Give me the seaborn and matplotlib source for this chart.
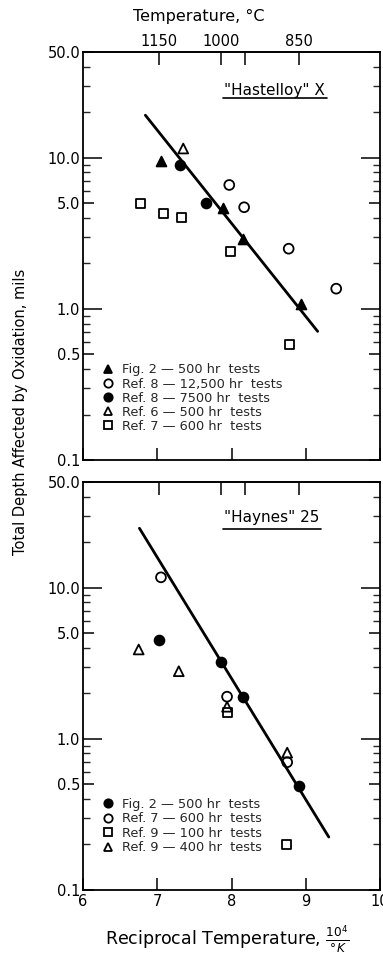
import numpy as np
import matplotlib
matplotlib.use("Agg")
import matplotlib.pyplot as plt
from matplotlib.lines import Line2D
import seaborn as sns

# ---------------- data ----------------
# Top panel: "Hastelloy" X
hx_fig2_x = [7.05, 7.88, 8.16, 8.93]
hx_fig2_y = [9.5, 4.65, 2.9, 1.07]
hx_ref8a_x = [7.97, 8.17, 8.77, 9.41]
hx_ref8a_y = [6.6, 4.7, 2.5, 1.36]
hx_ref8b_x = [7.30, 7.66]
hx_ref8b_y = [9.0, 5.0]
hx_ref6_x = [7.35]
hx_ref6_y = [11.5]
hx_ref7_x = [6.77, 7.08, 7.32, 7.98, 8.78]
hx_ref7_y = [5.0, 4.3, 4.0, 2.4, 0.58]
hx_fit_x = [6.84, 9.16]
hx_fit_y = [19.1, 0.71]
hx_labels = ["Fig. 2 — 500 hr  tests", "Ref. 8 — 12,500 hr  tests",
             "Ref. 8 — 7500 hr  tests", "Ref. 6 — 500 hr  tests",
             "Ref. 7 — 600 hr  tests"]

# Bottom panel: "Haynes" 25
hy_fig2_x = [7.03, 7.86, 8.16, 8.91]
hy_fig2_y = [4.5, 3.2, 1.9, 0.49]
hy_ref7_x = [7.05, 7.94, 8.75]
hy_ref7_y = [11.7, 1.9, 0.70]
hy_ref9a_x = [7.94, 8.74]
hy_ref9a_y = [1.5, 0.20]
hy_ref9b_x = [6.75, 7.29, 7.94, 8.75]
hy_ref9b_y = [3.9, 2.8, 1.63, 0.81]
hy_fit_x = [6.76, 9.31]
hy_fit_y = [24.7, 0.224]
hy_labels = ["Fig. 2 — 500 hr  tests", "Ref. 7 — 600 hr  tests",
             "Ref. 9 — 100 hr  tests", "Ref. 9 — 400 hr  tests"]

x_ticks = [6, 7, 8, 9, 10]
y_ticks = [0.1, 0.5, 1.0, 5.0, 10.0, 50.0]
y_ticklabels = ["0.1", "0.5", "1.0", "5.0", "10.0", "50.0"]
c_ticks = [1150, 1000, 950, 850]
c_ticklabels = ["1150", "1000", "", "850"]

# ---------------- style ----------------
sns.set_theme(style="ticks")
plt.rcParams['font.family'] = ['DejaVu Sans']
plt.rcParams['axes.linewidth'] = 1.3

fig = plt.figure(figsize=(3.83, 9.58), dpi=100)
ax1 = fig.add_axes([0.2167, 0.5198, 0.7755, 0.4259])
ax2 = fig.add_axes([0.2167, 0.0710, 0.7755, 0.4259])

MS = 50
LW = 1.3
TICKFS = 10.5


def scatter(ax, x, y, marker, filled, size=MS):
    sns.scatterplot(x=x, y=y, ax=ax, marker=marker, s=size, color="black",
                    edgecolor="black", linewidth=LW, zorder=4, legend=False)
    if not filled:
        ax.collections[-1].set_facecolor("none")


def handle(marker, filled):
    return Line2D([], [], linestyle="none", marker=marker, markersize=6,
                  markerfacecolor="black" if filled else "none",
                  markeredgecolor="black", markeredgewidth=LW)


def k_to_c(x):
    x = np.asarray(x, dtype=float)
    with np.errstate(divide="ignore", invalid="ignore"):
        return 1e4 / x - 273.0


def c_to_k(c):
    c = np.asarray(c, dtype=float)
    with np.errstate(divide="ignore", invalid="ignore"):
        return 1e4 / (c + 273.0)


def style_axes(ax, show_xlabels, show_ctlabels):
    ax.set_yscale("log")
    ax.set_xlim(6, 10)
    ax.set_ylim(0.1, 50)
    ax.set_xticks(x_ticks)
    if show_xlabels:
        ax.set_xticklabels([str(t) for t in x_ticks])
    else:
        ax.set_xticklabels([])
    ax.set_yticks(y_ticks)
    ax.set_yticklabels(y_ticklabels)
    ax.yaxis.set_minor_locator(matplotlib.ticker.LogLocator(base=10, subs=np.arange(2, 10)))
    ax.yaxis.set_minor_formatter(matplotlib.ticker.NullFormatter())
    ax.xaxis.set_minor_locator(matplotlib.ticker.NullLocator())
    ax.tick_params(axis="x", which="major", direction="in", length=9, width=1.1,
                   top=False, bottom=True, labelsize=TICKFS, pad=3, colors="black")
    ax.tick_params(axis="y", which="major", direction="in", length=8, width=1.1,
                   left=True, right=True, labelsize=TICKFS, pad=2, colors="black")
    ax.tick_params(axis="y", which="minor", direction="in", length=5, width=1.0,
                   left=True, right=True)
    for t, v in zip(ax.yaxis.get_major_ticks(), y_ticks):
        if v in (1.0, 10.0):
            t.tick1line.set_markersize(14)
            t.tick2line.set_markersize(14)
    for s in ax.spines.values():
        s.set_color("black")
        s.set_visible(True)
    sec = ax.secondary_xaxis("top", functions=(k_to_c, c_to_k))
    sec.set_xticks(c_ticks)
    if show_ctlabels:
        sec.set_xticklabels(c_ticklabels)
    else:
        sec.set_xticklabels([])
    sec.xaxis.set_minor_locator(matplotlib.ticker.NullLocator())
    sec.tick_params(axis="x", which="major", direction="in", length=9, width=1.1,
                    labelsize=TICKFS, pad=2, colors="black")
    return sec


# ---------------- top panel ----------------
sns.lineplot(x=hx_fit_x, y=hx_fit_y, ax=ax1, color="black", linewidth=2.0, zorder=3)
scatter(ax1, hx_fig2_x, hx_fig2_y, "^", True)
scatter(ax1, hx_ref8a_x, hx_ref8a_y, "o", False)
scatter(ax1, hx_ref8b_x, hx_ref8b_y, "o", True)
scatter(ax1, hx_ref6_x, hx_ref6_y, "^", False)
scatter(ax1, hx_ref7_x, hx_ref7_y, "s", False, size=42)
style_axes(ax1, False, True)
ax1.set_xlabel("")
ax1.set_ylabel("")

h1 = [handle("^", True), handle("o", False), handle("o", True),
      handle("^", False), handle("s", False)]
ax1.legend(h1, hx_labels, loc="lower left", bbox_to_anchor=(0.035, 0.045),
           frameon=False, fontsize=9.3, handlelength=0.8, handletextpad=0.7,
           labelspacing=0.08, borderaxespad=0.3)

ax1.text(0.645, 0.905, '"Hastelloy" X', transform=ax1.transAxes,
         ha="center", va="center", fontsize=11, color="black")
ax1.plot([0.473, 0.821], [0.887, 0.887], transform=ax1.transAxes,
         color="black", linewidth=1.2)

# ---------------- bottom panel ----------------
sns.lineplot(x=hy_fit_x, y=hy_fit_y, ax=ax2, color="black", linewidth=2.0, zorder=3)
scatter(ax2, hy_fig2_x, hy_fig2_y, "o", True)
scatter(ax2, hy_ref7_x, hy_ref7_y, "o", False)
scatter(ax2, hy_ref9a_x, hy_ref9a_y, "s", False, size=42)
scatter(ax2, hy_ref9b_x, hy_ref9b_y, "^", False)
style_axes(ax2, True, False)
ax2.set_ylabel("")
ax2.set_xlabel("")

h2 = [handle("o", True), handle("o", False), handle("s", False), handle("^", False)]
ax2.legend(h2, hy_labels, loc="lower left", bbox_to_anchor=(0.035, 0.065),
           frameon=False, fontsize=9.3, handlelength=0.8, handletextpad=0.7,
           labelspacing=0.12, borderaxespad=0.3)

ax2.text(0.635, 0.912, '"Haynes" 25', transform=ax2.transAxes,
         ha="center", va="center", fontsize=11, color="black")
ax2.plot([0.47, 0.80], [0.885, 0.885], transform=ax2.transAxes,
         color="black", linewidth=1.2)

# ---------------- figure labels ----------------
fig.text(0.52, 0.983, "Temperature, °C", ha="center", va="center",
         fontsize=11.5, color="black")
fig.text(0.593, 0.02, r"Reciprocal Temperature, $\frac{10^4}{\degree K}$",
         ha="center", va="center", fontsize=12.5, color="black")
fig.text(0.053, 0.57, "Total Depth Affected by Oxidation, mils", rotation=90,
         ha="center", va="center", fontsize=10.5, color="black")

fig.savefig("out.png", dpi=100, facecolor="white")
